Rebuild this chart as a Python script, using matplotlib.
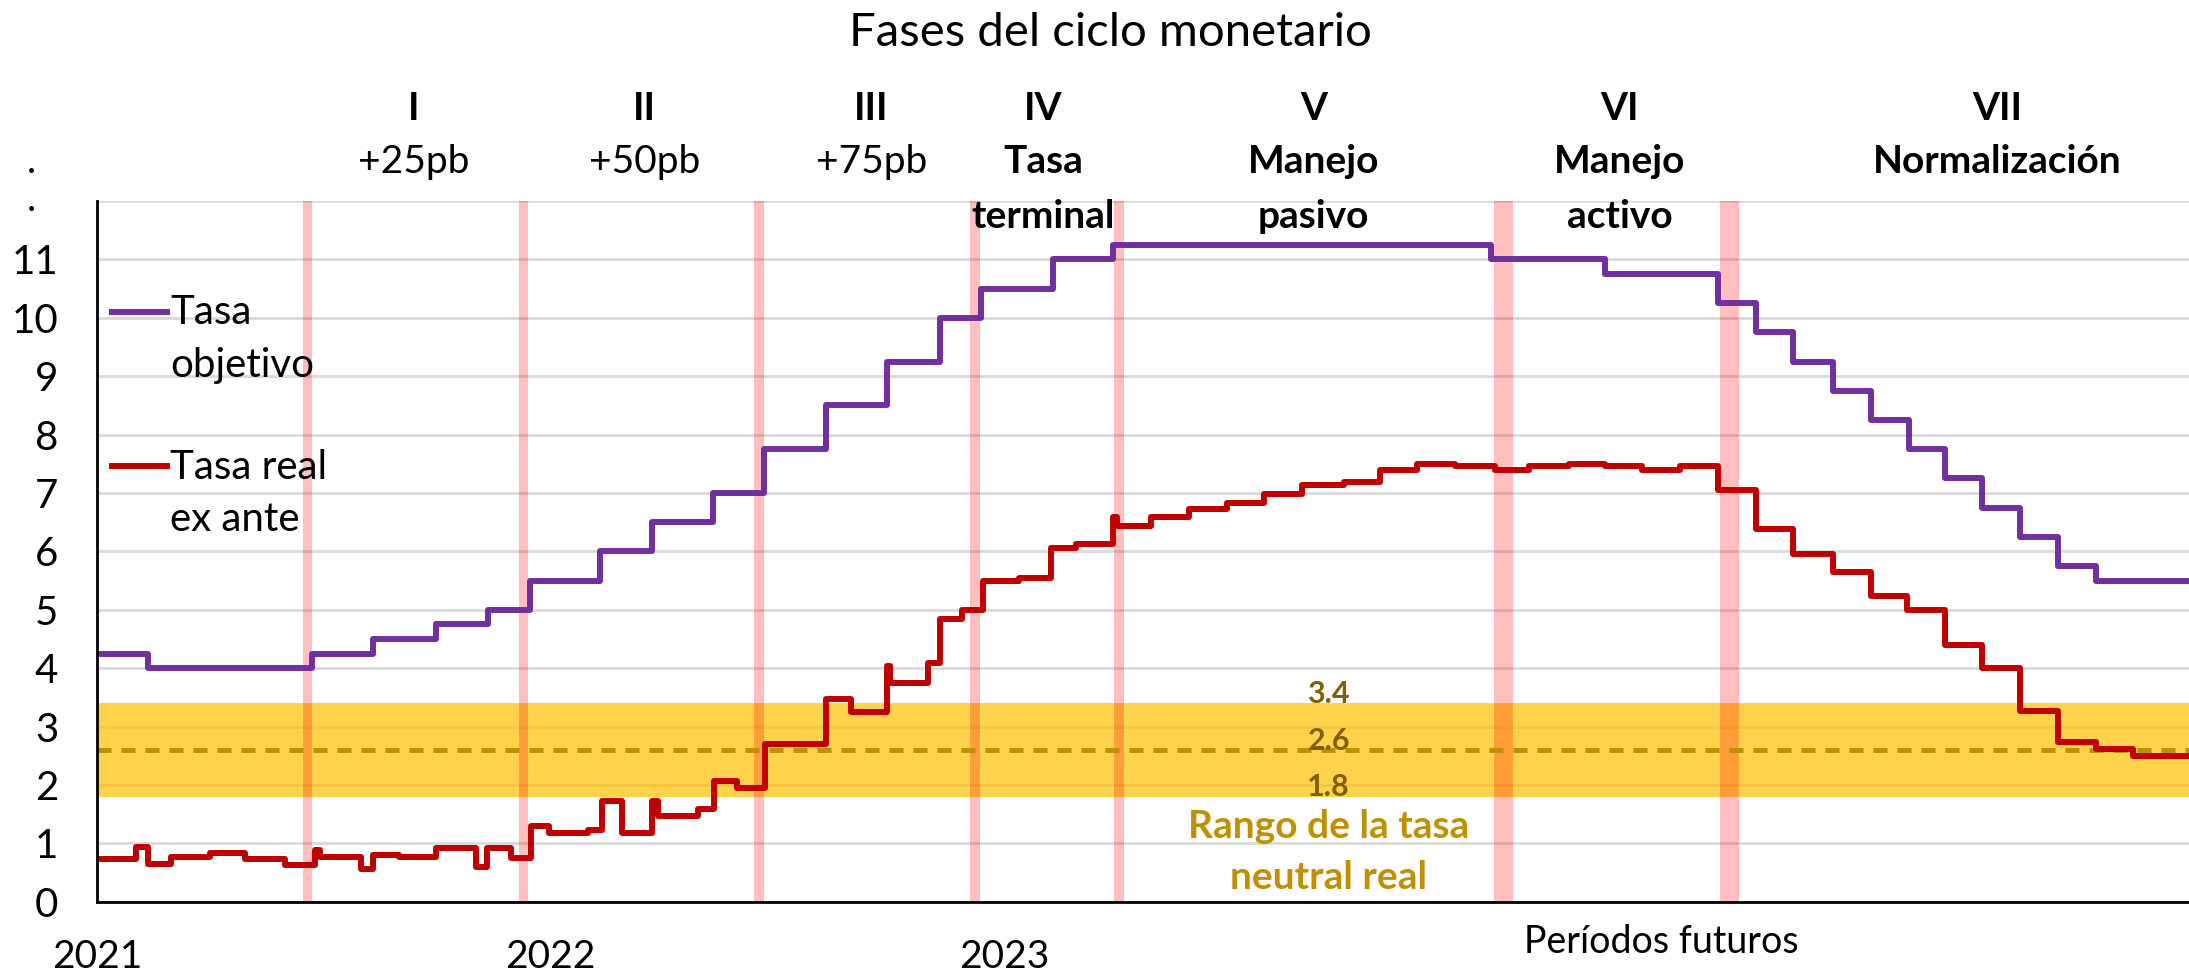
import numpy as np
import matplotlib
matplotlib.use('Agg')
import matplotlib.pyplot as plt
from matplotlib.lines import Line2D

plt.rcParams['font.family'] = ['Lato', 'DejaVu Sans']

# x is in months counted from January 2021
tasa_obj_x = [0, 1.35, 5.7, 7.3, 8.97, 10.36, 11.45, 13.3, 14.7, 16.3, 17.66, 19.3, 20.9,
              22.3, 23.4, 25.3, 26.9, 36.9, 39.9, 42.9, 43.9, 44.9, 45.95, 46.95, 47.95,
              48.9, 49.9, 50.9, 51.9, 52.9, 55.4]
tasa_obj_y = [4.25, 4.0, 4.25, 4.5, 4.75, 5.0, 5.5, 6.0, 6.5, 7.0, 7.75, 8.5, 9.25,
              10.0, 10.5, 11.0, 11.25, 11.0, 10.75, 10.25, 9.75, 9.25, 8.75, 8.25, 7.75,
              7.25, 6.75, 6.25, 5.75, 5.5, 5.5]

tasa_real_x = [0, 1.04, 1.36, 1.95, 2.99, 3.92, 4.98, 5.76, 5.9, 6.98, 7.3, 8.0, 8.97,
               10.04, 10.32, 10.97, 11.5, 11.97, 13.0, 13.37, 13.9, 14.7, 14.85, 15.9,
               16.33, 16.95, 17.69, 19.3, 19.95, 20.9, 21.0, 22.0, 22.3, 22.9, 23.44,
               24.4, 25.25, 25.9, 26.9, 27.0, 27.9, 28.9, 29.9, 30.9, 31.9, 33.0, 33.96,
               34.95, 35.95, 37.0, 37.9, 38.96, 39.9, 40.9, 41.9, 42.9, 43.9, 44.9,
               45.95, 46.95, 47.9, 48.9, 49.9, 50.9, 51.9, 52.9, 53.9, 55.4]
tasa_real_y = [0.73, 0.94, 0.64, 0.77, 0.83, 0.73, 0.62, 0.89, 0.77, 0.56, 0.80, 0.76, 0.92,
               0.60, 0.92, 0.74, 1.29, 1.17, 1.22, 1.73, 1.17, 1.72, 1.47, 1.58,
               2.07, 1.94, 2.70, 3.47, 3.25, 4.03, 3.75, 4.09, 4.84, 5.0, 5.50,
               5.55, 6.06, 6.13, 6.59, 6.43, 6.58, 6.72, 6.83, 6.98, 7.13, 7.19, 7.40,
               7.50, 7.46, 7.39, 7.46, 7.50, 7.46, 7.39, 7.47, 7.05, 6.38, 5.96,
               5.65, 5.23, 5.0, 4.39, 4.0, 3.26, 2.74, 2.62, 2.50, 2.50]

# neutral real rate range
neutral_low = 1.8
neutral_mid = 2.6
neutral_high = 3.4

# phase boundaries (month, width in months)
phase_lines = [5.57, 11.29, 17.52, 23.24, 27.04, 37.23, 43.2]
phase_widths = [0.26, 0.26, 0.26, 0.26, 0.26, 0.5, 0.5]

phase_x = [8.39, 14.5, 20.5, 25.05, 32.2, 40.3, 50.3]
phase_num = ['I', 'II', 'III', 'IV', 'V', 'VI', 'VII']
phase_txt = [['+25pb'], ['+50pb'], ['+75pb'], ['Tasa', 'terminal'], ['Manejo', 'pasivo'],
             ['Manejo', 'activo'], ['Normalización']]

year_ticks = [0, 12, 24]
year_labels = ['2021', '2022', '2023']

W, H = 2189, 972
fig = plt.figure(figsize=(W / 100, H / 100), dpi=100)
ax = fig.add_axes([97 / W, 1 - 901.7 / H, 1 - 97 / W, (901.7 - 201) / H])

ax.set_xlim(0, 55.37)
ax.set_ylim(0, 12)

ax.set_yticks(range(0, 13))
ax.set_yticklabels([str(i) for i in range(12)] + [''])
ax.yaxis.grid(True, color='#D9D9D9', lw=2, zorder=0)
ax.set_axisbelow(True)
ax.tick_params(axis='y', length=0, pad=28, labelsize=29)
ax.set_xticks(year_ticks)
ax.set_xticklabels(year_labels)
ax.tick_params(axis='x', length=0, pad=27, labelsize=28)

for s in ['top', 'right']:
    ax.spines[s].set_visible(False)
for s in ['left', 'bottom']:
    ax.spines[s].set_linewidth(2)
    ax.spines[s].set_zorder(6)

# neutral band
ax.axhspan(neutral_low, neutral_high, color='#FFC000', alpha=0.7, lw=0, zorder=1)
for xc, w in zip(phase_lines, phase_widths):
    ax.axvspan(xc - w / 2, xc + w / 2, color='#FF0000', alpha=0.25, lw=0, zorder=2)
ax.axhline(neutral_mid, color='#BF9000', lw=3.6, ls=(0, (2.8, 2.0)), zorder=3)

ax.step(tasa_obj_x, tasa_obj_y, where='post', color='#7030A0', lw=4.3, zorder=4)
ax.step(tasa_real_x, tasa_real_y, where='post', color='#C00000', lw=4.3, zorder=5)

# labels of neutral band
for v in [neutral_high, neutral_mid, neutral_low]:
    ax.text(32.6, v + 0.16, f'{v:.1f}', color='#7F6000', fontsize=22, fontweight='bold',
            ha='center', va='center', zorder=7)
ax.text(32.6, 1.28, 'Rango de la tasa', color='#BF9000', fontsize=28, fontweight='bold',
        ha='center', va='center')
ax.text(32.6, 0.42, 'neutral real', color='#BF9000', fontsize=28, fontweight='bold',
        ha='center', va='center')

ax.text(41.4, -0.058, 'Períodos futuros', transform=ax.get_xaxis_transform(),
        fontsize=27, ha='center', va='center')

# phase labels
line_y = [13.58, 12.67, 11.73]
for xp, num, txt in zip(phase_x, phase_num, phase_txt):
    ax.text(xp, line_y[0], num, ha='center', va='center', fontsize=28, fontweight='bold')
    bold = num not in ('I', 'II', 'III')
    for k, t in enumerate(txt):
        ax.text(xp, line_y[k + 1], t, ha='center', va='center', fontsize=28,
                fontweight='bold' if bold else 'normal')

fig.text(1110 / W, 1 - 33 / H, 'Fases del ciclo monetario', ha='center', va='center', fontsize=34)

# stray dots on the y axis
fig.text(31 / W, 1 - 200 / H, '.', ha='center', va='center', fontsize=28)
fig.text(31 / W, 1 - 162 / H, '.', ha='center', va='center', fontsize=28)

# legend
leg = [('#7030A0', 312, ['Tasa', 'objetivo']), ('#C00000', 466, ['Tasa real', 'ex ante'])]
for col, yy, lab in leg:
    fig.add_artist(Line2D([112 / W, 167 / W], [1 - yy / H, 1 - yy / H], color=col, lw=4.3))
    for k, t in enumerate(lab):
        fig.text(170 / W, 1 - (yy + 1 + k * 52) / H, t, ha='left', va='center', fontsize=29)

fig.savefig('out.png', dpi=100)
